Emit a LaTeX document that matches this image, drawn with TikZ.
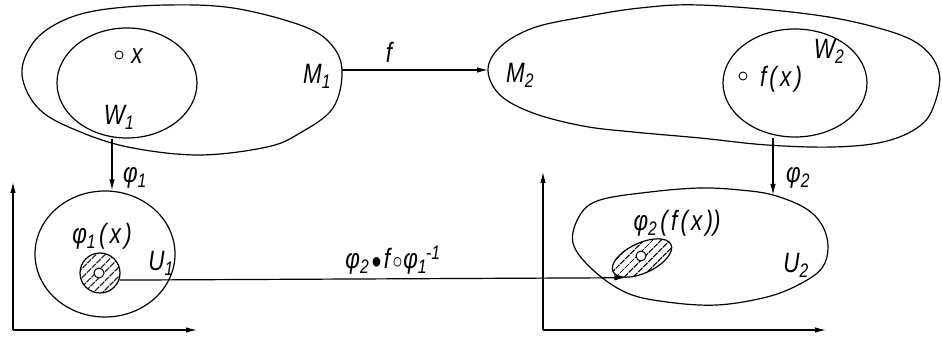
\documentclass[tikz,border=0pt]{standalone}
\usepackage{fontspec}
\setmainfont{Liberation Sans}
\usetikzlibrary{arrows.meta,patterns.meta,shapes.geometric}
\newcommand\Tx[1]{\scalebox{0.8}[1]{\itshape #1}}
\newcommand\gp{\kern4pt}
\begin{document}
\begin{tikzpicture}[x=1pt,y=-1pt,
  ln/.style={line width=1.2pt},
  arr/.style={line width=1.2pt,-{Latex[length=11pt,width=5.5pt]}},
  lbl/.style={inner sep=0pt,font=\fontsize{28}{30}\selectfont},
  oval/.style={ellipse,draw,line width=1.2pt,inner sep=0pt},
  dot/.style={circle,draw,line width=0.9pt,inner sep=0pt,minimum size=8pt},
  hatch/.style={draw,line width=1.2pt,inner sep=0pt,pattern={Lines[angle=45,distance=6.5pt,line width=1.5pt]}}]
\useasboundingbox (0,0) rectangle (942,339);
% big blobs
\draw[ln] plot[smooth cycle,tension=0.6] coordinates {(22,75) (33,43) (60,22) (100,10) (167,5) (233,8) (300,25) (330,43) (342,70) (333,108) (300,133) (267,147) (200,155) (133,148) (83,133) (40,110)};
\draw[ln] plot[smooth cycle,tension=0.6] coordinates {(488,70) (500,47) (533,28) (583,17) (640,8) (700,5) (800,13) (867,25) (917,43) (939,72) (933,108) (917,128) (883,142) (833,147) (767,145) (700,138) (633,132) (583,126) (533,113) (500,95)};
\draw[ln] plot[smooth cycle,tension=0.6] coordinates {(573,243) (580,215) (600,200) (650,192) (700,188) (740,190) (773,195) (805,208) (822,225) (828,247) (822,268) (800,284) (767,297) (717,305) (667,302) (627,293) (593,270)};
\coordinate (m1e) at (342,70);
\coordinate (m2w) at (488,70);
\coordinate (u2top) at (773,195);
% ovals
\node[oval,minimum width=140pt,minimum height=110pt] (W1) at (127,83) {};
\node[oval,minimum width=144pt,minimum height=108pt] (W2) at (795,83) {};
\node[oval,minimum width=140pt,minimum height=126pt] (U1) at (105,254) {};
% hatched regions
\node[hatch,circle,minimum size=40pt] (h1) at (100,273) {};
\node[dot,fill=white,minimum size=10pt,line width=1pt] (p1) at (99,273) {};
\node[hatch,ellipse,minimum width=64pt,minimum height=30pt,rotate=25] (h2) at (642,258) {};
\node[dot,fill=white,minimum size=10pt,line width=1pt] (p2) at (641,256) {};
% points
\node[dot] (cx) at (119,55) {};
\node[dot] (cfx) at (743,76) {};
% arrows
\coordinate (a1) at (112,0);
\coordinate (a2) at (773,0);
\draw[arr] (m1e) -- (m2w);
\draw[arr] (W1.south -| a1) -- (U1.north -| a1);
\draw[arr] (W2.south -| a2) -- (u2top);
\draw[arr] (h1.-20) -- (h2.205);
% axes
\coordinate (o1) at (13,330);
\coordinate (y1) at (13,182);
\coordinate (x1) at (197,330);
\coordinate (o2) at (543,330);
\coordinate (y2) at (543,172);
\coordinate (x2) at (826,330);
\draw[arr] (o1) -- (y1);
\draw[arr] (o1) -- (x1);
\draw[arr] (o2) -- (y2);
\draw[arr] (o2) -- (x2);
% labels
\node[lbl] (lx) at (137,56) {\Tx{x}};
\node[lbl] (lW1) at (119,117) {\Tx{W\textsubscript{1}}};
\node[lbl] (lM1) at (317,76) {\Tx{M\textsubscript{1}}};
\node[lbl] (lf) at (389,52) {\Tx{f}};
\node[lbl] (lM2) at (520,75) {\Tx{M\textsubscript{2}}};
\node[lbl] (lW2) at (829,51) {\Tx{W\textsubscript{2}}};
\node[lbl] (lfx) at (781,79) {\Tx{f\gp(\gp x\gp)}};
\node[lbl] (lp1) at (135,178) {\Tx{φ\textsubscript{1}}};
\node[lbl] (lp2) at (798,178) {\Tx{φ\textsubscript{2}}};
\node[lbl] (lp1x) at (102,236) {\Tx{φ\textsubscript{1}\gp(\gp x\gp)}};
\node[lbl] (lU1) at (161,263) {\Tx{U\textsubscript{1}}};
\node[lbl] (lp2fx) at (677,223) {\Tx{φ\textsubscript{2}\gp(\gp f\gp(\gp x\gp))}};
\node[lbl] (lU2) at (796,265) {\Tx{U\textsubscript{2}}};
\node[lbl] (lcomp) at (393,260) {\Tx{φ\textsubscript{2}\kern3pt$\bullet$\kern3pt f\kern3pt$\circ$\kern1pt φ\textsubscript{1}\kern-1pt\textsuperscript{-1}}};
\end{tikzpicture}
\end{document}
